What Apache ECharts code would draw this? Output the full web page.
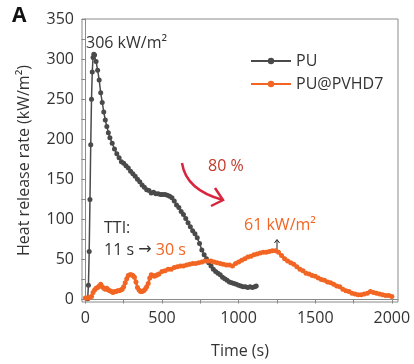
<!DOCTYPE html>
<html>
<head>
<meta charset="utf-8">
<script src="https://cdn.jsdelivr.net/npm/echarts@6/dist/echarts.min.js"></script>
<style>
  html, body { margin: 0; padding: 0; background: #fff; }
  #chart { width: 414px; height: 364px; }
</style>
</head>
<body>
<div id="chart"></div>
<script>
// PU heat release rate
const timePU = [15, 20, 25, 30, 35, 40, 45, 50, 55, 60, 70, 80, 90, 100, 110, 120, 130, 140, 150, 160,
  175, 190, 205, 220, 235, 250, 265, 280, 295, 310, 325, 340, 355, 370, 385, 400, 415, 430, 445, 460,
  475, 490, 505, 520, 535, 550, 565, 580, 595, 610, 625, 640, 655, 670, 685, 700, 715, 730, 745, 760,
  775, 790, 805, 820, 835, 850, 865, 880, 895, 910, 925, 940, 955, 970, 985, 1000, 1015, 1030, 1045,
  1060, 1075, 1090, 1105, 1115];
const hrrPU = [1, 18, 60, 125, 193, 250, 284, 302, 306, 305, 297, 286, 274, 258, 246, 234, 224, 216, 208, 202,
  195, 188, 182, 177, 172, 170, 167, 164, 160, 157, 154, 150, 147, 143, 140, 137, 136, 133, 134, 132,
  132, 131, 131, 131, 130, 129, 127, 123, 118, 115, 110, 106, 101, 96, 91, 86, 82, 77, 70, 62,
  56, 51, 46, 42, 38, 35, 33, 31, 28, 26, 24, 22, 21, 20, 19, 18, 17, 16, 16,
  15, 16, 15, 16, 17];

// PU@PVHD7 heat release rate
const timePVHD = [0, 10, 20, 30, 40, 50, 60, 70, 80, 90, 100, 110, 120, 130, 140, 150, 160, 170, 180, 190,
  200, 210, 220, 230, 240, 250, 260, 270, 280, 290, 300, 310, 320, 330, 340, 350, 360, 370, 380, 390,
  400, 410, 420, 430, 440, 450, 460, 470, 480, 500, 520, 540, 560, 580, 600, 620, 640, 660, 680, 700,
  720, 740, 760, 780, 800, 820, 840, 860, 880, 900, 920, 940, 960, 980, 1000, 1020, 1040, 1060, 1080,
  1100, 1120, 1140, 1160, 1180, 1200, 1220, 1240, 1260, 1280, 1300, 1320, 1340, 1360, 1380, 1400, 1420,
  1440, 1460, 1480, 1500, 1520, 1540, 1560, 1580, 1600, 1620, 1640, 1660, 1680, 1700, 1720, 1740, 1760,
  1780, 1800, 1820, 1840, 1860, 1880, 1900, 1920, 1940, 1960, 1980, 2000];
const hrrPVHD = [2, 2, 2, 3, 4, 9, 12, 14, 15, 17, 19, 16, 14, 13, 14, 12, 11, 10, 9, 10,
  10, 11, 11, 12, 13, 16, 21, 26, 30, 31, 31, 30, 28, 22, 15, 12, 10, 10, 11, 13,
  16, 20, 27, 31, 30, 29, 30, 31, 32, 35, 36, 38, 38, 40, 41, 42, 42, 43, 44, 45,
  45, 46, 47, 48, 48, 48, 47, 46, 45, 44, 43, 43, 42, 45, 47, 49, 51, 53, 54,
  56, 57, 58, 59, 59, 60, 61, 61, 59, 55, 51, 48, 46, 44, 41, 38, 36,
  33, 32, 30, 29, 27, 25, 24, 22, 21, 19, 17, 16, 13, 11, 10, 8, 7,
  6, 6, 7, 8, 10, 9, 8, 7, 6, 5, 5, 4];

const xTickLabels = [0, 500, 1000, 1500, 2000];
const xTicks = [0, 250, 500, 750, 1000, 1250, 1500, 1750, 2000];
const yTickLabels = [0, 50, 100, 150, 200, 250, 300, 350];
const yTicks = [0, 25, 50, 75, 100, 125, 150, 175, 200, 225, 250, 275, 300, 325, 350];

const FONT = "Open Sans";
const TEXT_COLOR = "#333333";
const AXIS_COLOR = "#8a8a8a";
const GRAY = "#4a4a4a";
const ORANGE = "#f26522";
const RED = "#d7263d";

const chart = echarts.init(document.getElementById("chart"));

const axisCommon = {
  axisLine: { show: true, lineStyle: { color: AXIS_COLOR, width: 1 } },
  axisTick: { show: true, length: 4, lineStyle: { color: AXIS_COLOR } },
  splitLine: { show: false },
  axisLabel: { color: TEXT_COLOR, fontFamily: FONT, fontSize: 16, formatter: v => String(v) },
  nameTextStyle: { color: TEXT_COLOR, fontFamily: FONT, fontSize: 16 },
};

chart.setOption({
  animation: false,
  grid: {
    left: 82, right: 16, top: 19, bottom: 57,
    show: true, borderColor: AXIS_COLOR, borderWidth: 1,
  },
  legend: {
    orient: "vertical",
    left: 245, top: 48,
    itemWidth: 40, itemHeight: 8, itemGap: 7,
    textStyle: { color: TEXT_COLOR, fontFamily: FONT, fontSize: 16 },
    data: ["PU", "PU@PVHD7"],
  },
  xAxis: {
    type: "value",
    min: -22, max: 2040,
    name: "Time (s)",
    nameLocation: "middle",
    nameGap: 41,
    ...axisCommon,
    axisTick: { ...axisCommon.axisTick, customValues: xTicks },
    axisLabel: { ...axisCommon.axisLabel, customValues: xTickLabels, margin: 8 },
  },
  yAxis: {
    type: "value",
    min: -3, max: 350,
    name: "Heat release rate (kW/m²)",
    nameLocation: "middle",
    nameGap: 50,
    ...axisCommon,
    axisTick: { ...axisCommon.axisTick, customValues: yTicks },
    axisLabel: { ...axisCommon.axisLabel, customValues: yTickLabels, margin: 8 },
  },
  series: [
    {
      name: "PU",
      type: "line",
      data: timePU.map((t, i) => [t, hrrPU[i]]),
      symbol: "circle",
      symbolSize: 5,
      showSymbol: true,
      color: GRAY,
      lineStyle: { color: GRAY, width: 1.5 },
      itemStyle: { color: GRAY },
      z: 2,
    },
    {
      name: "PU@PVHD7",
      type: "line",
      data: timePVHD.map((t, i) => [t, hrrPVHD[i]]),
      symbol: "circle",
      symbolSize: 5,
      showSymbol: true,
      color: ORANGE,
      lineStyle: { color: ORANGE, width: 2.5 },
      itemStyle: { color: ORANGE },
      z: 3,
    },
  ],
  graphic: [
    { type: "text", left: 12, top: 6, style: { text: "A", font: "bold 21px " + FONT, fill: "#111" } },
    { type: "text", left: 86, top: 35, style: { text: "306 kW/m²", font: "16px " + FONT, fill: TEXT_COLOR } },
    { type: "text", left: 208, top: 158, style: { text: "80 %", font: "16px " + FONT, fill: "#c0392b" } },
    {
      type: "bezierCurve",
      shape: { x1: 182, y1: 163, cpx1: 186, cpy1: 190, x2: 223, y2: 200 },
      style: { stroke: RED, lineWidth: 2.5, fill: null },
    },
    {
      type: "polyline",
      shape: { points: [[215, 188], [223, 200], [211, 206]] },
      style: { stroke: RED, lineWidth: 2.5, fill: null },
    },
    { type: "text", left: 104, top: 220, style: { text: "TTI:", font: "16px " + FONT, fill: TEXT_COLOR } },
    {
      type: "text", left: 104, top: 242,
      style: {
        text: "{a|11 s }{c|→}{b| 30 s}",
        rich: {
          a: { font: "16px " + FONT, fill: TEXT_COLOR },
          c: { font: "16px 'DejaVu Sans'", fill: TEXT_COLOR },
          b: { font: "16px " + FONT, fill: ORANGE },
        },
      },
    },
    { type: "text", left: 244, top: 217, style: { text: "61 kW/m²", font: "16px " + FONT, fill: ORANGE } },
    {
      type: "line",
      shape: { x1: 277, y1: 253, x2: 277, y2: 240 },
      style: { stroke: "#222", lineWidth: 1 },
    },
    {
      type: "polyline",
      shape: { points: [[274.5, 243], [277, 239.5], [279.5, 243]] },
      style: { stroke: "#222", lineWidth: 1, fill: null },
    },
  ],
});
</script>
</body>
</html>
